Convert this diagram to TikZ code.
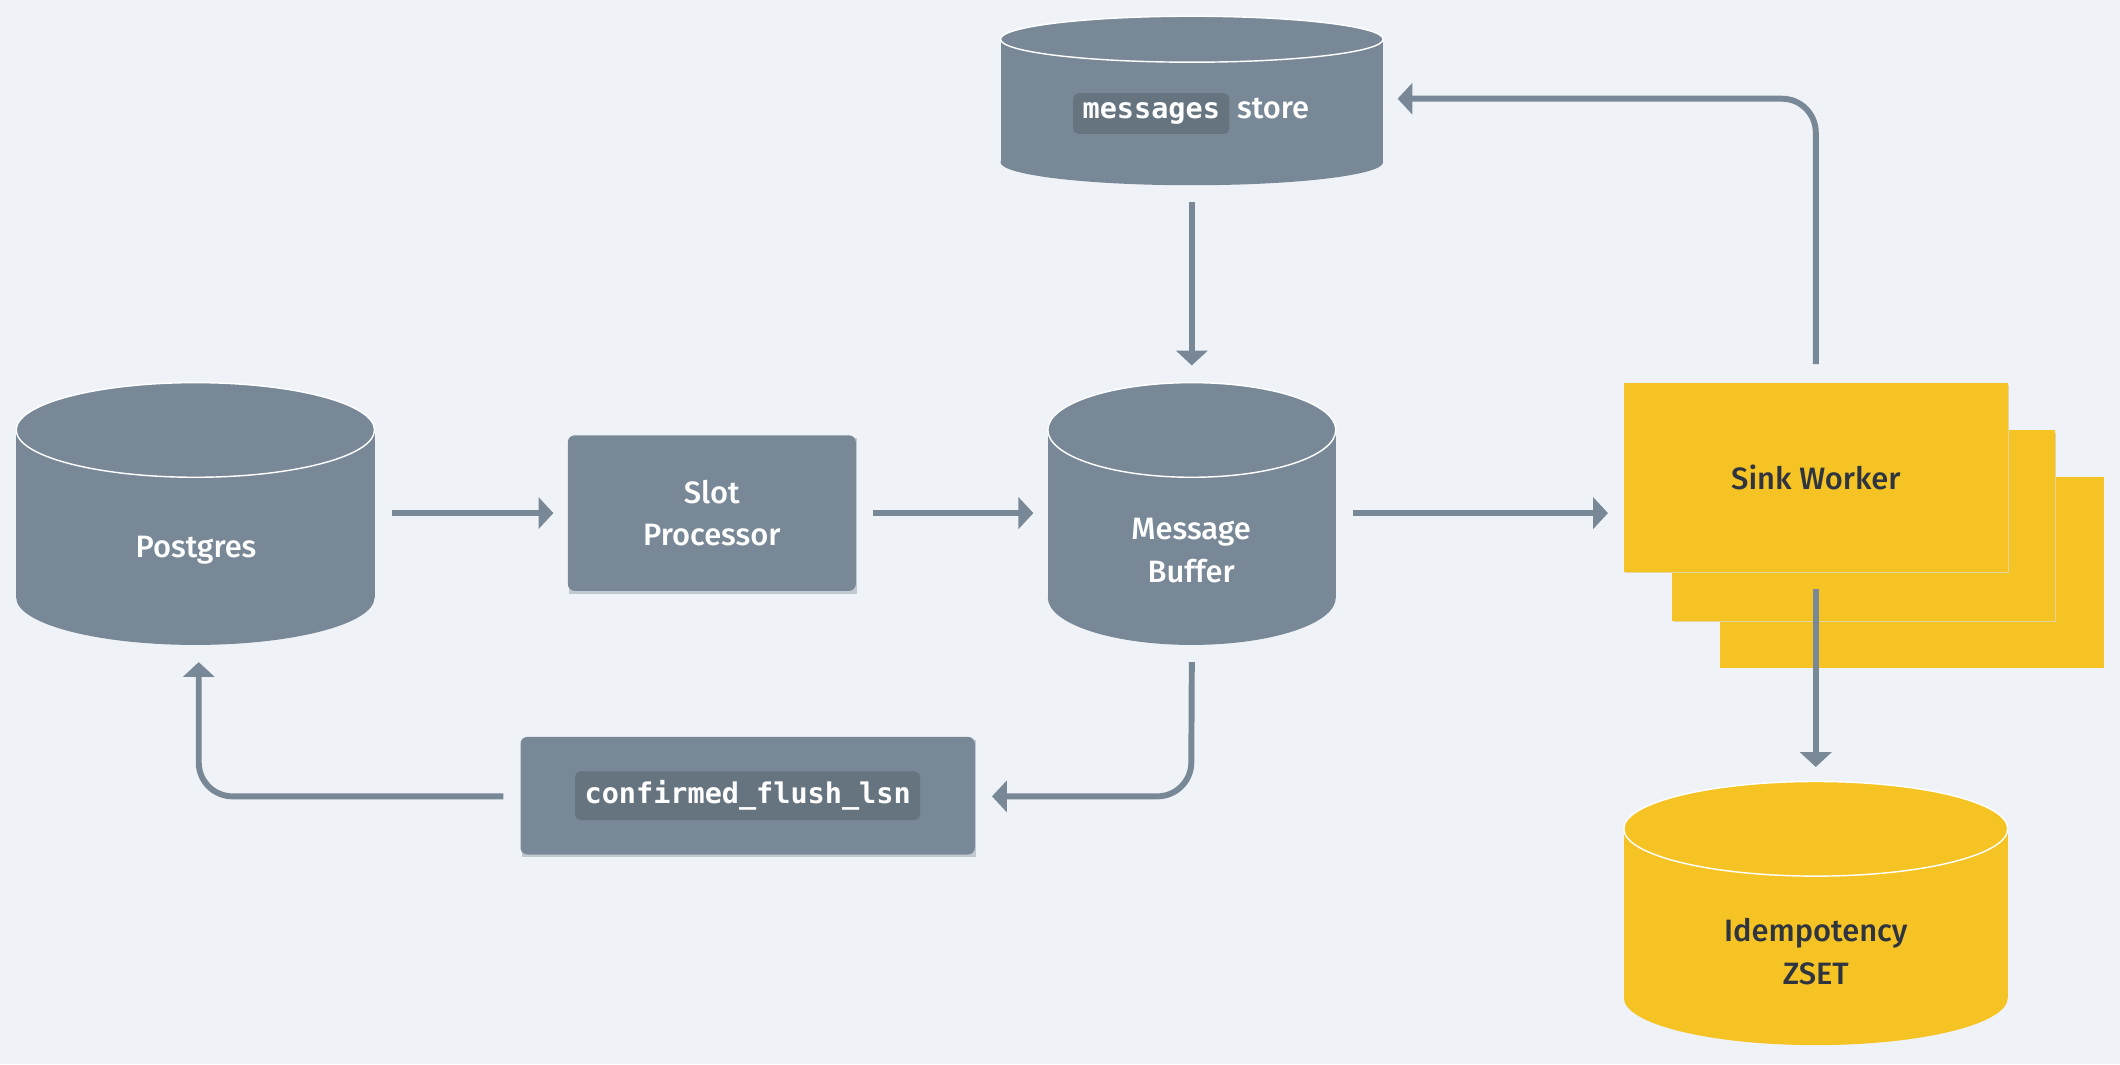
\documentclass[tikz,border=0pt]{standalone}
\usepackage{fontspec}
\setmainfont{Fira Sans}[UprightFont=* Medium]
\setmonofont{DejaVu Sans Mono}
\usetikzlibrary{arrows.meta,positioning,calc}
\definecolor{bg}{HTML}{EFF3F7}
\definecolor{gr}{HTML}{788896}
\definecolor{grd}{HTML}{66747F}
\definecolor{ye}{HTML}{F6C324}
\definecolor{tx}{HTML}{2E3440}
\tikzset{
 arr/.style={draw=gr,line width=1.25pt,rounded corners=2.5mm,-{Triangle[length=1.1mm,width=2.3mm]}},
 lbl/.style={font=\fontsize{6.5}{10}\selectfont,align=center,text=white},
 box/.style={fill=gr,rounded corners=0.5mm,inner sep=0pt},
 code/.style={fill=grd,rounded corners=0.4mm,inner sep=0.7mm,font=\ttfamily\bfseries\fontsize{6}{8}\selectfont,text=white},
}
\newcommand{\mycyl}[7]{%
 \fill[#7] (#2,#3+#6) rectangle (#4,#5-#6);
 \fill[#7] ({(#2+#4)/2},#5-#6) ellipse [x radius={(#4-#2)/2},y radius=#6];
 \fill[#7] ({(#2+#4)/2},#3+#6) ellipse [x radius={(#4-#2)/2},y radius=#6];
 \draw[white,line width=0.3pt] ({(#2+#4)/2},#3+#6) ellipse [x radius={(#4-#2)/2},y radius=#6];
 \node[minimum width={(#4-#2)*0.1mm},minimum height={(#5-#3)*0.1mm},inner sep=0pt] (#1) at ({(#2+#4)/2},{(#3+#5)/2}) {};
}
\begin{document}
\begin{tikzpicture}[x=0.1mm,y=-0.1mm]
\fill[bg] (0,0) rectangle (1568,787);
\useasboundingbox (0,0) rectangle (1568,787);
\mycyl{pg}{12}{283}{277}{477}{35}{gr}
\node[lbl] at (145,407) {Postgres};
\mycyl{buf}{775}{283}{988}{477}{35}{gr}
\node[lbl] at (881,407) {Message\\[-1pt]Buffer};
\mycyl{st}{740}{12}{1023}{137}{17}{gr}
\node[lbl] at (881,84) {\tikz[baseline=(c.base)]\node[code](c){messages};\ store};
\mycyl{zs}{1201}{578}{1485}{773}{35}{ye}
\node[lbl,text=tx] at (1343,704) {Idempotency\\[-1pt]ZSET};
\fill[gr!40!bg] (421,324) rectangle (634,439);
\fill[box] (420,322) rectangle (633,437);
\node[lbl,minimum width=21.3mm,minimum height=11.5mm] (slot) at (526.5,379.5) {Slot\\[-1pt]Processor};
\fill[gr!40!bg] (386,547) rectangle (722,634);
\fill[box] (385,545) rectangle (721,632);
\node[minimum width=33.6mm,minimum height=8.7mm,inner sep=0pt] (cfl) at (553,588.5) {};
\node[code] at (553,588.5) {confirmed\_flush\_lsn};
\fill[ye] (1272,353) rectangle (1556,494);
\fill[ye!85!black!40!bg] (1238,320) rectangle (1521,460);
\fill[ye] (1237,318) rectangle (1520,459);
\fill[ye!85!black!40!bg] (1202,285) rectangle (1486,424);
\fill[ye] (1201,283) rectangle (1485,423);
\node[lbl,text=tx,minimum width=28.4mm,minimum height=14mm] (sink) at (1343,353) {Sink Worker};
\draw[arr] ([xshift=1.2mm]pg.east|-slot.west) -- ([xshift=-1mm]slot.west);
\draw[arr] ([xshift=1.2mm]slot.east) -- ([xshift=-1mm]buf.west|-slot.west);
\draw[arr] ([yshift=-1.2mm]st.south) -- ([yshift=1.2mm]buf.north);
\draw[arr] ([xshift=1.2mm]buf.east|-slot.west) -- ([xshift=-1.1mm]sink.west|-slot.west);
\draw[arr] ([yshift=1.3mm]sink.north) -- (1343,73) -- ([xshift=1mm]st.east|-0,73);
\draw[arr] ([yshift=-1.2mm]buf.south) -- (881,589) -- ([xshift=1.2mm]cfl.east|-0,589);
\draw[arr] ([xshift=-1.2mm]cfl.west|-0,589) -- (147,589) -- ([yshift=-1.2mm]pg.south-|147,0);
\draw[arr] ([yshift=-1.2mm]sink.south) -- ([yshift=1mm]zs.north);
\end{tikzpicture}
\end{document}
